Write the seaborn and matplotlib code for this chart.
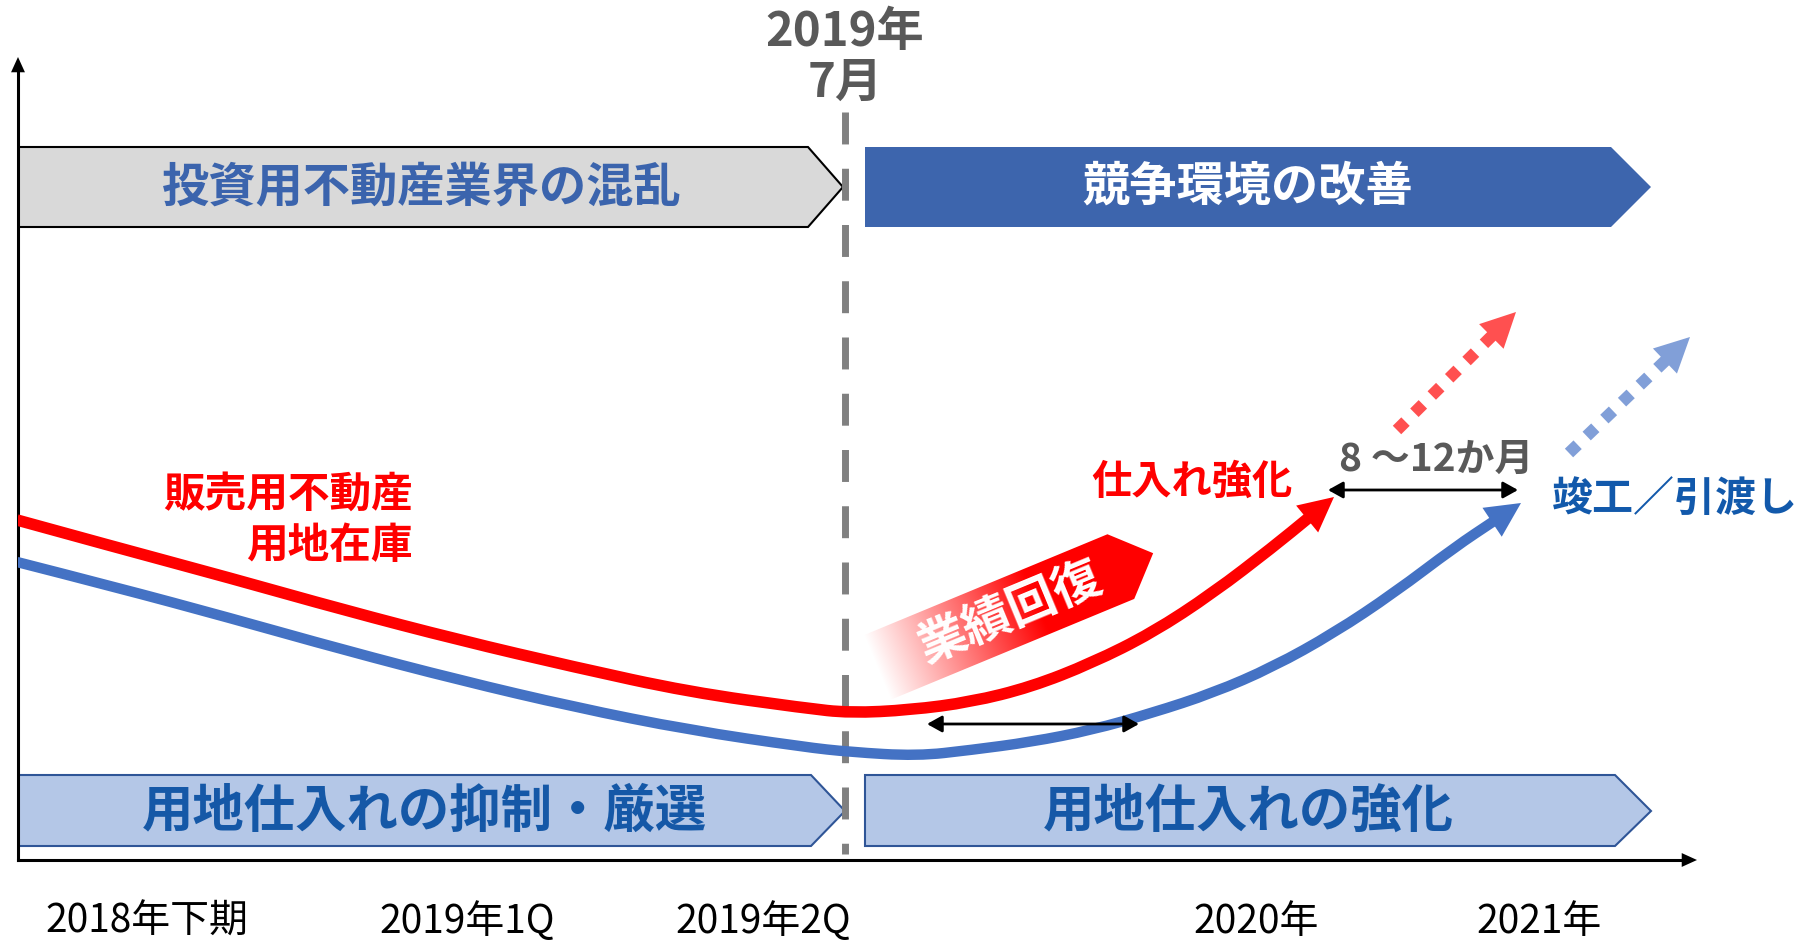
import numpy as np
import matplotlib
matplotlib.use("Agg")
import matplotlib.pyplot as plt
from matplotlib.patches import Polygon, PathPatch
from matplotlib.path import Path
import seaborn as sns

# --- datos (coordenadas en píxeles del original) ---
red_x = [17, 115, 230, 344, 459, 574, 689, 804, 850, 910, 971, 1031, 1092, 1152, 1213, 1273, 1334]
red_y = [520, 547, 578, 610, 640, 667, 692, 708, 713, 710, 702, 687, 663, 633, 593, 547, 497]
blue_x = [17, 115, 230, 344, 459, 574, 689, 804, 850, 917, 971, 1031, 1092, 1152, 1213, 1273, 1334, 1394, 1455, 1521]
blue_y = [562, 587, 618, 650, 680, 707, 730, 747, 752, 756, 750, 742, 730, 713, 693, 667, 633, 593, 547, 503]

tick_x = [147, 467, 763, 1256, 1539]
tick_labels = ["2018年下期", "2019年1Q", "2019年2Q", "2020年", "2021年"]

milestone_x = 845
milestone_lines = ["2019年", "7月"]
phase_top = ["投資用不動産業界の混乱", "競争環境の改善"]
phase_bottom = ["用地仕入れの抑制・厳選", "用地仕入れの強化"]
inventory_label = ["販売用不動産", "用地在庫"]
lag_label = "8 ～12か月"

sns.set_theme(style="white")
plt.rcParams["font.family"] = ["Noto Sans CJK JP", "DejaVu Sans"]

W, H = 1798, 941
fig = plt.figure(figsize=(W / 100, H / 100), dpi=100)
ax = fig.add_axes([18 / W, (H - 860) / H, 1 - 18 / W, 860 / H])

RED = "#ff0000"
BLUE = "#4472c4"
DARKBLUE = "#1558a7"


def head_base(p0, tip, length):
    p0 = np.asarray(p0, float)
    tip = np.asarray(tip, float)
    d = tip - p0
    d /= np.hypot(*d)
    return tip - d * (length * 100 / 72 - 3)


def head(p0, tip, color, length=25, width=12.5, z=4):
    ax.annotate("", xy=tip, xytext=p0,
                arrowprops=dict(arrowstyle=f"-|>,head_length={length},head_width={width}",
                                color=color, lw=0, mutation_scale=1, shrinkA=0, shrinkB=0),
                annotation_clip=False, zorder=z + 0.1)


def curve_arrow(xs, ys, color, lw):
    # curva suave (Bezier cuadrática por puntos medios) + punta de flecha
    tip = (xs[-1], ys[-1])
    prev = (xs[-2], ys[-2])
    pts = list(zip(xs[:-1], ys[:-1])) + [tuple(head_base(prev, tip, 25))]
    verts = [pts[0]]
    codes = [Path.MOVETO]
    for i in range(1, len(pts) - 1):
        mid = ((pts[i][0] + pts[i + 1][0]) / 2, (pts[i][1] + pts[i + 1][1]) / 2)
        verts += [pts[i], mid]
        codes += [Path.CURVE3, Path.CURVE3]
    verts.append(pts[-1])
    codes.append(Path.LINETO)
    ax.add_patch(PathPatch(Path(verts, codes), fill=False, ec=color, lw=lw,
                           capstyle="butt", joinstyle="round", zorder=4))
    head(prev, tip, color)


def dotted_arrow(p0, tip, color):
    b = head_base(p0, tip, 25)
    sns.lineplot(x=[p0[0], b[0]], y=[p0[1], b[1]], color=color, linewidth=8.6, ax=ax, sort=False,
                 estimator=None, dashes=False, zorder=4, linestyle=(0, (1, 1.05)), dash_capstyle="butt")
    head(p0, tip, color)


# --- bandas de fases ---
ax.add_patch(Polygon([(18, 147), (808, 147), (843, 187), (808, 227), (18, 227)],
                     fc="#d9d9d9", ec="black", lw=1.5, zorder=1))
ax.add_patch(Polygon([(865, 147), (1611, 147), (1651, 187), (1611, 227), (865, 227)],
                     fc="#3d65ad", ec="none", zorder=1))
ax.add_patch(Polygon([(18, 775), (811, 775), (845, 811), (811, 846), (18, 846)],
                     fc="#b4c7e7", ec="#2f5597", lw=1.5, zorder=1))
ax.add_patch(Polygon([(865, 775), (1615, 775), (1651, 811), (1615, 846), (865, 846)],
                     fc="#b4c7e7", ec="#2f5597", lw=1.5, zorder=1))

ax.text(422, 187, phase_top[0], color="#3b64ad", fontsize=34, fontweight="bold", ha="center", va="center", zorder=2)
ax.text(1248, 187, phase_top[1], color="white", fontsize=34, fontweight="bold", ha="center", va="center", zorder=2)
ax.text(424, 811, phase_bottom[0], color=DARKBLUE, fontsize=37, fontweight="bold", ha="center", va="center", zorder=2)
ax.text(1248, 811, phase_bottom[1], color=DARKBLUE, fontsize=37, fontweight="bold", ha="center", va="center", zorder=2)

# --- línea vertical 2019年7月 ---
ax.plot([milestone_x, milestone_x], [112, 854], color="#808080", lw=5, dashes=(4.6, 3.5), zorder=2.5)
ax.text(milestone_x, 32, milestone_lines[0], color="#595959", fontsize=34, fontweight="bold", ha="center", va="center")
ax.text(milestone_x, 83, milestone_lines[1], color="#595959", fontsize=34, fontweight="bold", ha="center", va="center")

# --- banda "業績回復" con degradado ---
ang = np.deg2rad(22.5)
u = np.array([np.cos(ang), -np.sin(ang)])
n = np.array([np.sin(ang), np.cos(ang)])
L = np.array([876.0, 668.0])
body, hl, half = 265, 35, 35
verts = [L - n * half, L + u * body - n * half, L + u * (body + hl), L + u * body + n * half, L + n * half]
poly = Polygon(verts, closed=True, fc="none", ec="none")
ax.add_patch(poly)
vx = [v[0] for v in verts]
vy = [v[1] for v in verts]
x0, x1, y0, y1 = min(vx), max(vx), min(vy), max(vy)
gx, gy = np.meshgrid(np.linspace(x0, x1, 300), np.linspace(y0, y1, 200))
t = ((gx - L[0]) * u[0] + (gy - L[1]) * u[1]) / body
img = np.zeros(gx.shape + (4,))
img[..., 0] = 1.0
img[..., 3] = np.clip(t / 0.65, 0, 1)
im = ax.imshow(img, extent=(x0, x1, y1, y0), origin="upper", aspect="auto", zorder=3, interpolation="bilinear")
im.set_clip_path(poly)
c = L + u * 145
ax.text(c[0], c[1], "業績回復", rotation=22.5, rotation_mode="anchor", color="white", fontsize=35,
        fontweight="bold", ha="center", va="center", zorder=3.5)

# --- curvas ---
curve_arrow(red_x, red_y, RED, 8.3)
curve_arrow(blue_x, blue_y, BLUE, 7.5)

# flechas punteadas
dotted_arrow((1397, 430), (1516, 312), "#ff5050")
dotted_arrow((1569, 453), (1690, 337), "#819fd8")

# flechas dobles
for xa, xb, yy in [(1328, 1518, 490), (927, 1139, 724)]:
    ax.annotate("", xy=(xb, yy), xytext=(xa, yy),
                arrowprops=dict(arrowstyle="<|-|>,head_length=9,head_width=5", color="black", lw=2,
                                mutation_scale=1, shrinkA=0, shrinkB=0), zorder=5)

# --- textos ---
ax.text(413, 495, inventory_label[0], color=RED, fontsize=30, fontweight="bold", ha="right", va="center")
ax.text(413, 546, inventory_label[1], color=RED, fontsize=30, fontweight="bold", ha="right", va="center")
ax.text(1192, 482, "仕入れ強化", color=RED, fontsize=29, fontweight="bold", ha="center", va="center")
ax.text(1436, 459, lag_label, color="#595959", fontsize=28, fontweight="bold", ha="center", va="center")
ax.text(1552, 499, "竣工／引渡し", color="#1259ab", fontsize=29.5, fontweight="bold", ha="left", va="center")

# --- ejes ---
for s in ["top", "right"]:
    ax.spines[s].set_visible(False)
for s in ["left", "bottom"]:
    ax.spines[s].set_color("black")
    ax.spines[s].set_linewidth(2.2)
ax.spines["bottom"].set_bounds(18, 1688)
ax.spines["left"].set_bounds(68, 860)
head((1670, 860), (1697, 860), "black", length=11, width=5, z=6)
head((18, 80), (18, 57), "black", length=11, width=5, z=6)

ax.set_xticks(tick_x, tick_labels)
ax.set_yticks([])
ax.tick_params(axis="x", length=0, pad=30, labelsize=28, labelcolor="black")
ax.grid(False)
ax.set_xlim(18, W)
ax.set_ylim(860, 0)

fig.savefig("out.png", dpi=100)
